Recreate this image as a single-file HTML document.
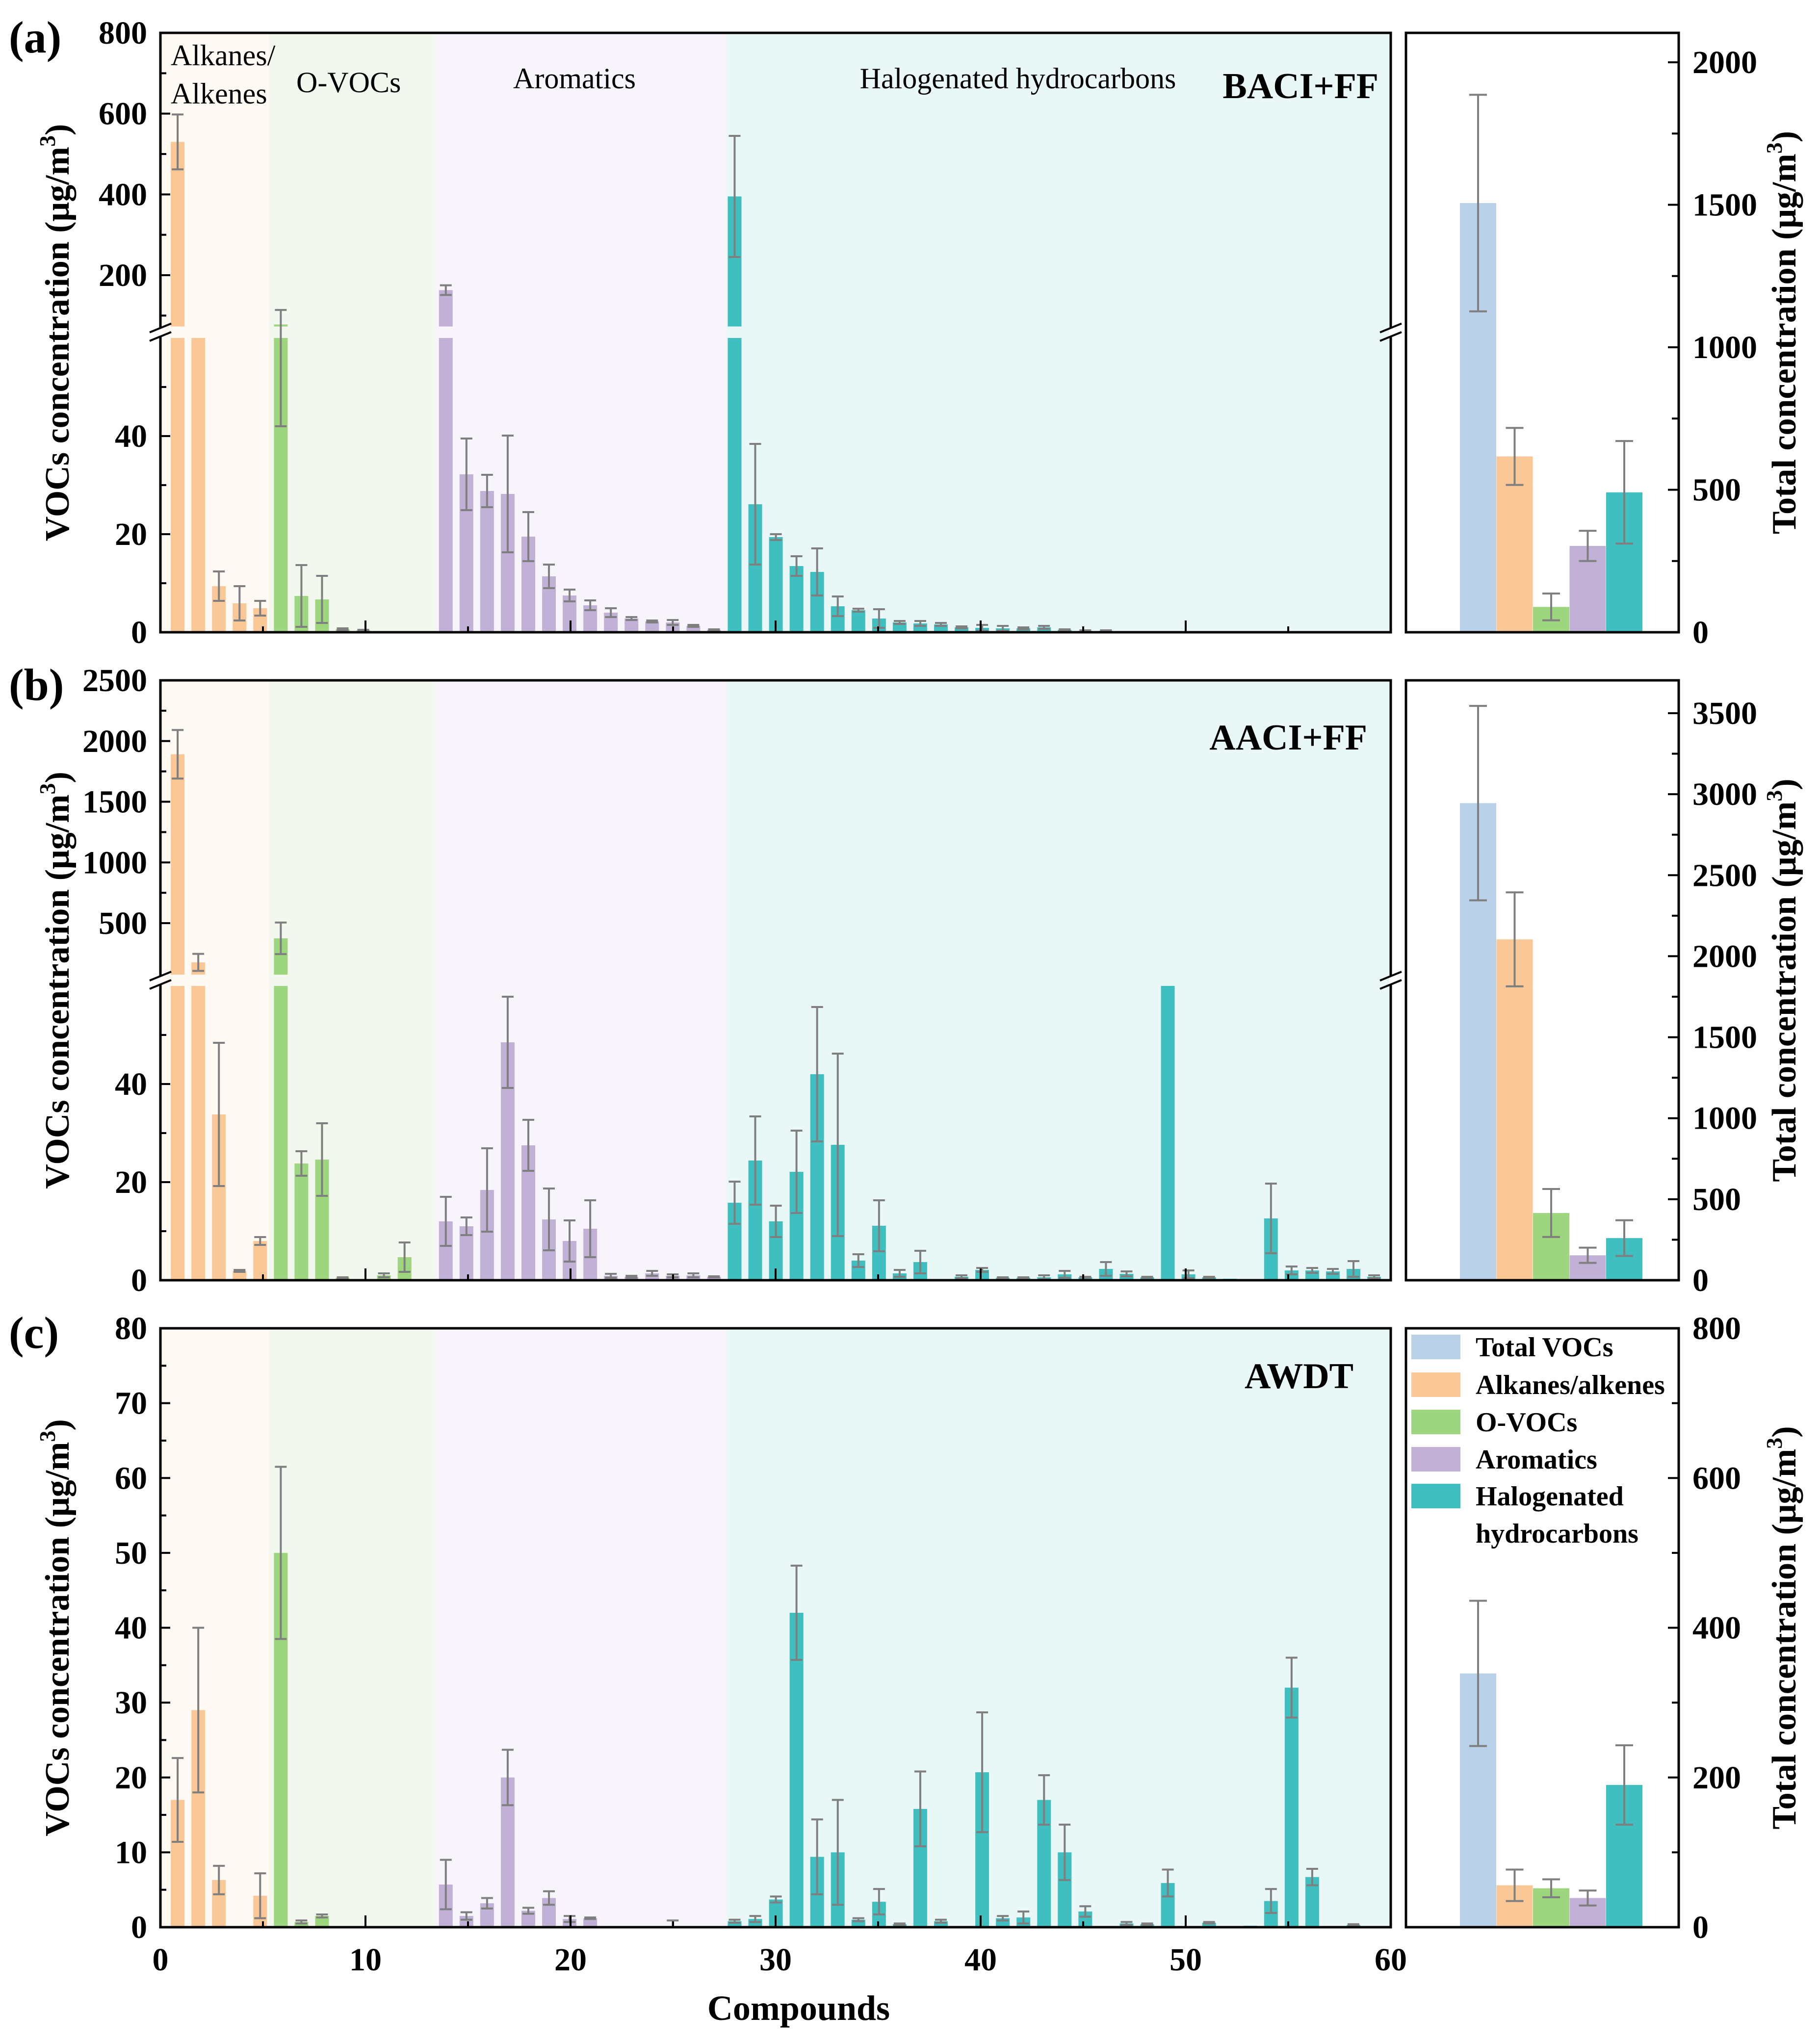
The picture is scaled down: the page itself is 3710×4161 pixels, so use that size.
<!DOCTYPE html>
<html><head><meta charset="utf-8">
<style>
html,body{margin:0;padding:0;background:#fff;}
svg{display:block;font-family:"Liberation Serif","DejaVu Serif",serif;}
text{font-family:"Liberation Serif","DejaVu Serif",serif;}
</style></head>
<body>
<svg id="chart" width="3710" height="4161" viewBox="0 0 3710 4161" xmlns="http://www.w3.org/2000/svg">
<g id="root"></g>
</svg>
<script>
// ---- data ----
const compoundIdx = Array.from({length:59},(_, k)=>k+1);
const groupNames = ["Alkanes/alkenes","O-VOCs","Aromatics","Halogenated hydrocarbons"];
const groupBounds = [5.3,13.4,27.6];
const aVals = [530,65,9.4,5.9,4.9,78,7.4,6.7,0.6,0.4,0.1,0.1,0, 163,32.2,28.8,28.2,19.5,11.4,7.5,5.5,4,2.8,2.2,2,1.3,0.5, 395,26.1,19.4,13.5,12.3,5.3,4.5,2.8,2,1.8,1.6,1,0.9,0.8,0.8,1,0.5,0.3,0.3,0.1,0.1,0,0,0,0,0,0,0,0,0,0,0];
const aSd = [68,0,3,3.5,1.5,36,6.3,4.8,0.2,0.1,0,0,0, 12,7.3,3.3,11.9,5,2.4,1.2,1,0.9,0.3,0.2,0.5,0.2,0.1, 150,12.3,0.6,2,4.8,2,0.3,1.9,0.3,0.5,0.3,0.2,0.6,0.5,0.2,0.3,0.1,0.1,0.1,0,0,0,0,0,0,0,0,0,0,0,0,0];
const bVals = [1891,177,33.8,1.9,8,375,23.8,24.6,0.5,0.1,1,4.7,0.2, 12,11,18.4,48.5,27.5,12.4,8,10.5,0.9,0.7,1.4,0.9,1,0.7, 15.8,24.4,12,22.1,42,27.6,4,11.1,1.4,3.7,0.2,0.7,2.1,0.5,0.5,0.6,1.2,0.6,2.3,1.3,0.6,60,1.2,0.6,0.3,0,12.6,2,2,1.8,2.3,0.7];
const bSd = [200,70,14.6,0.2,0.8,130,2.5,7.4,0.1,0,0.4,3,0, 5,1.8,8.5,9.3,5.2,6.3,4.2,5.8,0.4,0.2,0.5,0.3,0.4,0.1, 4.3,9,3.2,8.4,13.7,18.6,1.3,5.2,0.7,2.3,0,0.3,0.4,0.1,0.1,0.4,0.7,0.1,1.4,0.5,0.1,0,0.8,0.1,0,0,7.1,0.8,0.5,0.5,1.6,0.3];
const cVals = [17,29,6.3,0,4.2,50,0.7,1.5,0.1,0,0,0.1,0, 5.7,1.5,3.2,20,2.2,3.9,1.1,1.2,0,0,0.1,0.1,0.1,0, 0.8,1.1,3.7,42,9.4,10,1,3.4,0.4,15.8,0.8,0,20.7,1.2,1.3,17,10,2.1,0.1,0.5,0.4,5.9,0,0.6,0,0.2,3.5,32,6.7,0,0.3,0];
const cSd = [5.6,11,1.9,0,3,11.5,0.2,0.2,0,0,0,0,0, 3.3,0.5,0.7,3.7,0.4,0.9,0.4,0.1,0,0,0,0.8,0,0, 0.2,0.4,0.4,6.3,5,7,0.2,1.7,0.1,5,0.2,0,8,0.3,0.8,3.3,3.7,0.7,0,0.2,0.1,1.8,0,0.1,0,0,1.6,4,1.1,0,0.1,0];
const totalCats = ["Total VOCs","Alkanes/alkenes","O-VOCs","Aromatics","Halogenated hydrocarbons"];
const aTotals = [1506,617,89,303,491];
const aTotalsSd = [380,100,47,53,180];
const bTotals = [2945,2104,415,154,260];
const bTotalsSd = [600,290,148,47,110];
const cTotals = [339,56,52,39,190];
const cTotalsSd = [97,21,12,10,53];
const xTickLabels = [0,10,20,30,40,50,60];

// ---- helpers ----
const NS="http://www.w3.org/2000/svg";
const root=document.getElementById('root');
function mk(tag,attrs,parent){const e=document.createElementNS(NS,tag);for(const k in attrs)e.setAttribute(k,attrs[k]);(parent||root).appendChild(e);return e;}
const COL=["#f9c896","#9dd67e","#c2b1d6","#40bfc1"];
const BG=["#fff9f4","#f3f8ef","#f7f5fb","#e9f7f6"];
const TOTCOL=["#b9d1e8","#f9c896","#9dd67e","#c2b1d6","#40bfc1"];
const X0=327,X1=2835,RX0=2866,RX1=3422;
function xs(u){return X0+u*(X1-X0)/60;}
function barU(i){return 0.84+(i-1)*1.006;}
function grp(i){return i<=5?0:i<=13?1:i<=27?2:3;}

const panels=[
 {key:'a',vals:aVals,sd:aSd,tot:aTotals,totSd:aTotalsSd,top:67,bot:1289,
  lower:[0,60,1289,689],upper:[73,800,665.6,67],
  majL:[0,20,40],minL:[10,30,50],majU:[200,400,600,800],minU:[100,300,500,700],
  rMax:2000,rTop:127,rMaj:[0,500,1000,1500,2000],rMinStep:250,label:'BACI+FF',labelY:200,labelX:2810},
 {key:'b',vals:bVals,sd:bSd,tot:bTotals,totSd:bTotalsSd,top:1387,bot:2610,
  lower:[0,60,2610,2010],upper:[76,2500,1987,1387],
  majL:[0,20,40],minL:[10,30,50],majU:[500,1000,1500,2000,2500],minU:[750,1250,1750,2250],
  rMax:3500,rTop:1454,rMaj:[0,500,1000,1500,2000,2500,3000,3500],rMinStep:250,label:'AACI+FF',labelY:1528,labelX:2787},
 {key:'c',vals:cVals,sd:cSd,tot:cTotals,totSd:cTotalsSd,top:2708,bot:3929,
  lower:[0,80,3929,2708],upper:null,
  majL:[0,10,20,30,40,50,60,70,80],minL:[5,15,25,35,45,55,65,75],majU:[],minU:[],
  rMax:800,rTop:2708,rMaj:[0,200,400,600,800],rMinStep:100,label:'AWDT',labelY:2830,labelX:2759}
];

panels.forEach(function(p){
  const L=p.lower,U=p.upper;
  function yv(v){
    if(v<=L[1]||!U) return L[2]-(Math.min(v,L[1])-L[0])*(L[2]-L[3])/(L[1]-L[0]);
    if(v<U[0]) return L[3];
    return U[2]-(v-U[0])*(U[2]-U[3])/(U[1]-U[0]);
  }
  const g=mk('g',{});
  
  
  const b=[0].concat(groupBounds).concat([60]);
  for(let k=0;k<4;k++){
    const r=mk('rect',{x:xs(b[k]),y:p.top,width:xs(b[k+1])-xs(b[k]),height:p.bot-p.top,fill:BG[k]},g);
    
    
  }
  const bw=28;
  p.vals.forEach(function(v,j){
    const i=j+1; if(v<=0) return;
    const cx=xs(barU(i)); const c=COL[grp(i)];
    const h1=L[2]-yv(Math.min(v,L[1]));
    const r1=mk('rect',{x:cx-bw/2,y:L[2]-h1,width:bw,height:h1,fill:c},g);
    
    
    if(U&&v>U[0]){
      const r2=mk('rect',{x:cx-bw/2,y:yv(v),width:bw,height:U[2]-yv(v),fill:c},g);
      
      
    }
    const s=p.sd[j];
    if(s>0){
      const yh=yv(v+s), yl=yv(Math.max(0,v-s));
      const e=mk('path',{d:'M'+cx+' '+yh+'V'+yl+'M'+(cx-12)+' '+yh+'H'+(cx+12)+'M'+(cx-12)+' '+yl+'H'+(cx+12),stroke:'#7f7f7f','stroke-width':4,fill:'none'},g);
      
      
    }
  });
  const fr=mk('rect',{x:X0,y:p.top,width:X1-X0,height:p.bot-p.top,fill:'none',stroke:'#000','stroke-width':5},g);
  
  
  function tick(v,len,lab){
    const y=yv(v);
    mk('line',{x1:X0,x2:X0+len,y1:y,y2:y,stroke:'#000','stroke-width':4},g);
    if(lab){const t=mk('text',{x:300,y:y+22,'text-anchor':'end','font-size':66,'font-weight':'bold'},g);t.textContent=v;
      
      }
  }
  p.majL.forEach(v=>tick(v,20,true)); p.minL.forEach(v=>tick(v,12,false));
  p.majU.forEach(v=>tick(v,20,true)); p.minU.forEach(v=>tick(v,12,false));
  for(let u=0;u<=60;u+=5){
    const x=xs(u),len=(u%10===0)?24:12;
    mk('line',{x1:x,x2:x,y1:p.bot,y2:p.bot-len,stroke:'#000','stroke-width':4},g);
  }
  if(U){
    [X0,X1].forEach(function(x){
      mk('rect',{x:x-4,y:U[2]+2,width:8,height:L[3]-U[2]-4,fill:'#fff'},g);
      mk('line',{x1:x-22,y1:U[2]+12,x2:x+22,y2:U[2]-6,stroke:'#000','stroke-width':4},g);
      mk('line',{x1:x-22,y1:L[3]+6,x2:x+22,y2:L[3]-12,stroke:'#000','stroke-width':4},g);
    });
  }
  const pl=mk('text',{x:18,y:p.top+40,'font-size':92,'font-weight':'bold'},g);
  pl.textContent='('+p.key+')';
  
  
  const sl=mk('text',{x:p.labelX,y:p.labelY,'text-anchor':'end','font-size':74,'font-weight':'bold'},g);
  sl.textContent=p.label;
  
  
  const yc=(p.top+p.bot)/2;
  const yt=mk('text',{x:0,y:0,transform:'translate(140,'+yc+') rotate(-90)','text-anchor':'middle','font-size':70,'font-weight':'bold'},g);
  yt.innerHTML='VOCs concentration (μg/m<tspan dy="-28" font-size="46">3</tspan><tspan dy="28">)</tspan>';
  
  

  const rg=mk('g',{});
  
  
  const rBot=p.bot;
  function ry(v){return rBot-v*(rBot-p.rTop)/p.rMax;}
  const tw=74;
  p.tot.forEach(function(v,k){
    const x=2976+k*74.5;
    const r=mk('rect',{x:x,y:ry(v),width:tw,height:rBot-ry(v),fill:TOTCOL[k]},rg);
    
    
    const s=p.totSd[k],cx=x+tw/2,yh=ry(v+s),yl=ry(Math.max(0,v-s));
    const e=mk('path',{d:'M'+cx+' '+yh+'V'+yl+'M'+(cx-18)+' '+yh+'H'+(cx+18)+'M'+(cx-18)+' '+yl+'H'+(cx+18),stroke:'#7f7f7f','stroke-width':4,fill:'none'},rg);
    
    
  });
  const rf=mk('rect',{x:RX0,y:p.top,width:RX1-RX0,height:p.bot-p.top,fill:'none',stroke:'#000','stroke-width':5},rg);
  
  
  for(let v=0;v<=p.rMax+0.1;v+=p.rMinStep){
    const maj=p.rMaj.indexOf(v)>=0;
    mk('line',{x1:RX1,x2:RX1-(maj?22:14),y1:ry(v),y2:ry(v),stroke:'#000','stroke-width':4},rg);
    if(maj){const t=mk('text',{x:3450,y:ry(v)+22,'font-size':66,'font-weight':'bold'},rg);t.textContent=v;
      
      }
  }
  const rt=mk('text',{x:0,y:0,transform:'translate(3660,'+yc+') rotate(-90)','text-anchor':'middle','font-size':70,'font-weight':'bold'},rg);
  rt.innerHTML='Total concentration (μg/m<tspan dy="-28" font-size="46">3</tspan><tspan dy="28">)</tspan>';
  
  
});

[["Alkanes/",348,133,'start'],["Alkenes",348,211,'start'],["O-VOCs",604,188,'start'],["Aromatics",1171,180,'middle'],["Halogenated hydrocarbons",2075,180,'middle']].forEach(function(d){
  const t=mk('text',{x:d[1],y:d[2],'font-size':60,'text-anchor':d[3]});
  t.textContent=d[0];
  
  
});

xTickLabels.forEach(function(v){
  const t=mk('text',{x:xs(v),y:4017,'text-anchor':'middle','font-size':66,'font-weight':'bold'});
  t.textContent=v;
  
  
});
const xt=mk('text',{x:1628,y:4118,'text-anchor':'middle','font-size':72,'font-weight':'bold'});
xt.textContent='Compounds';



const leg=mk('g',{});


const legRows=[["Total VOCs",2746],["Alkanes/alkenes",2823],["O-VOCs",2899],["Aromatics",2975],["Halogenated",3050]];
legRows.forEach(function(r,k){
  const box=mk('rect',{x:2877,y:r[1]-25,width:100,height:50,fill:TOTCOL[k]},leg);
  
  
  const t=mk('text',{x:3008,y:r[1]+19,'font-size':56,'font-weight':'bold'},leg);
  t.textContent=r[0];
  
  
});
const t2=mk('text',{x:3008,y:3145,'font-size':56,'font-weight':'bold'},leg);
t2.textContent='hydrocarbons';


</script>
</body></html>
